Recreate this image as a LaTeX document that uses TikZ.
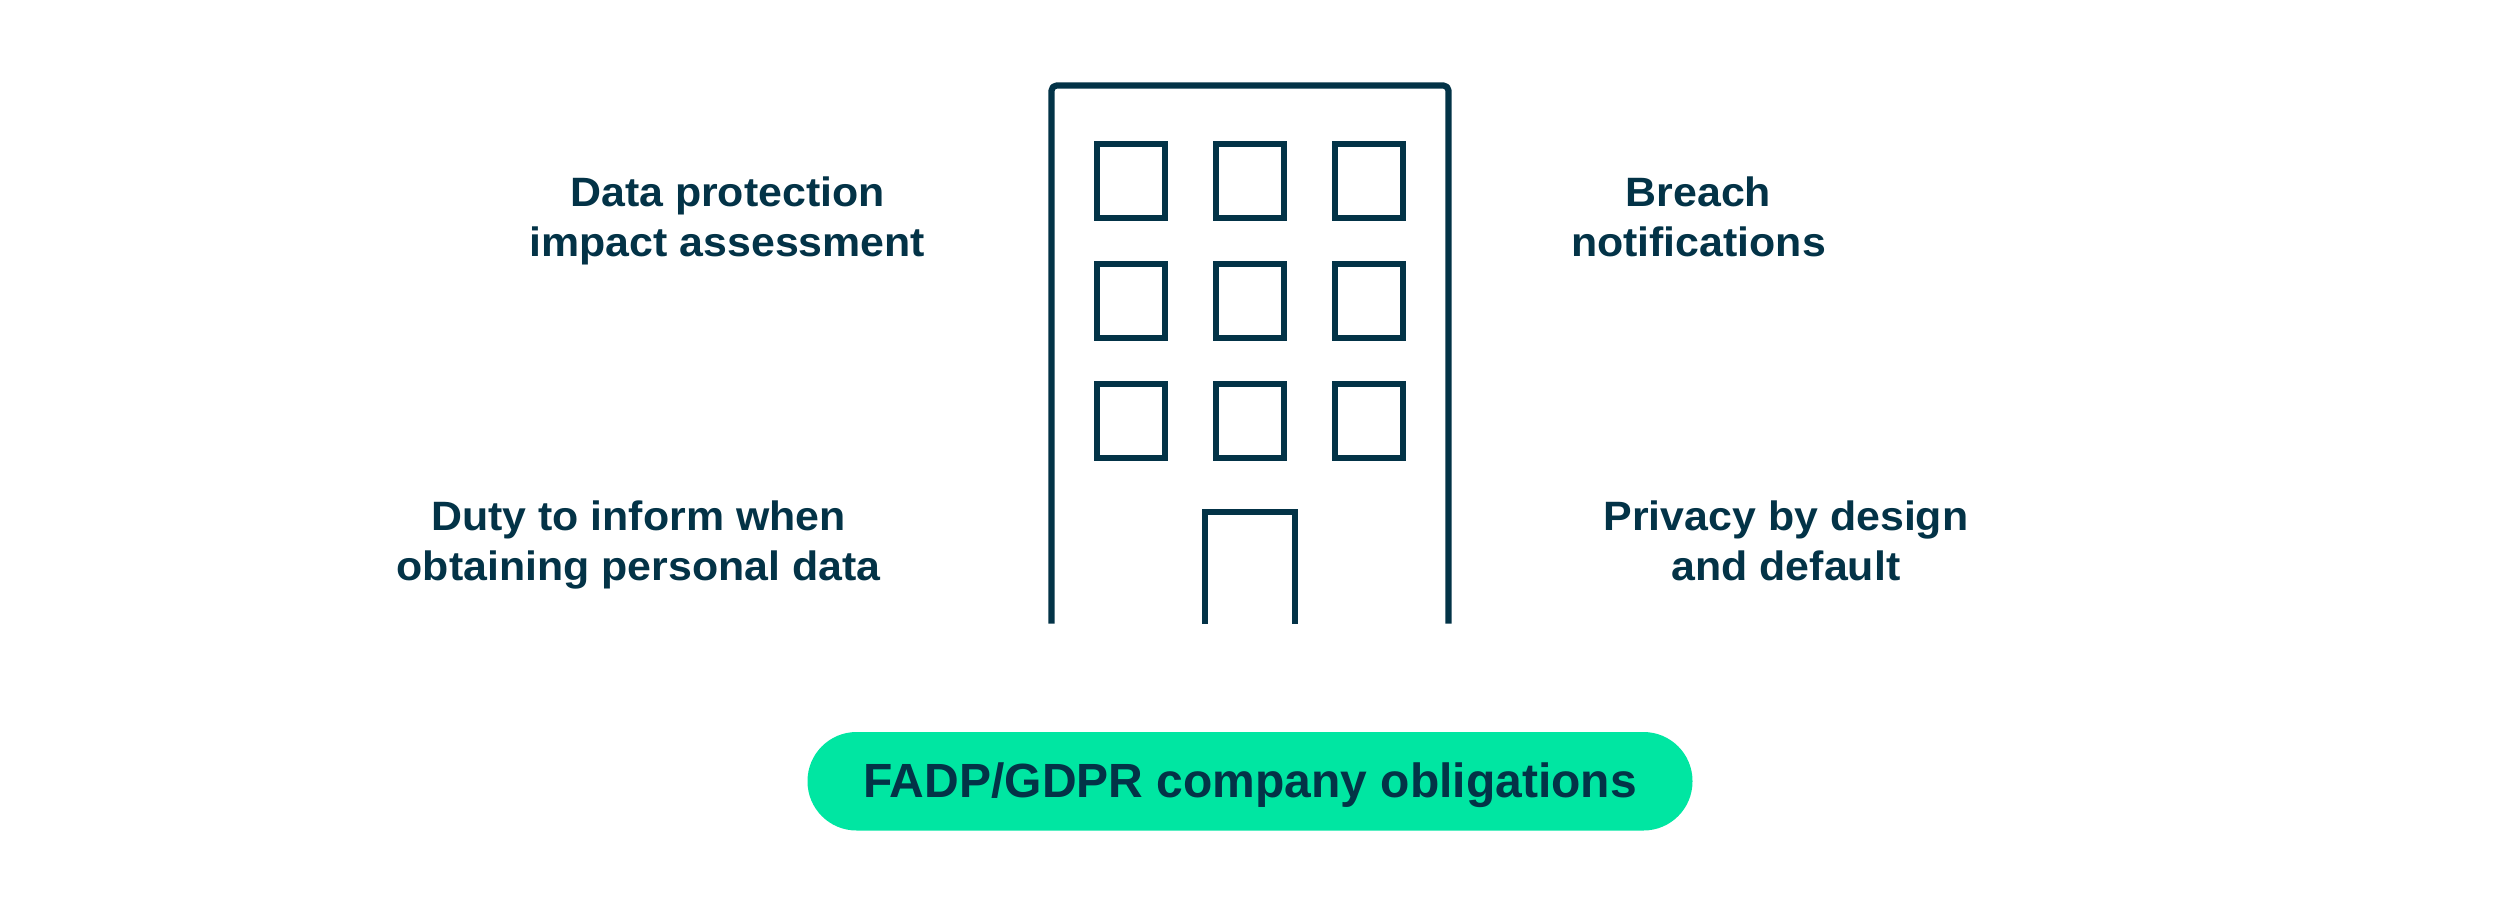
\documentclass[tikz,border=0pt]{standalone}
\usepackage{fontspec}
\setmainfont{Liberation Sans}
\newfontfamily\capfont[FakeStretch=1.046]{Liberation Sans}
\definecolor{ink}{HTML}{033347}
\definecolor{mint}{HTML}{00E6A2}
\tikzset{
  x=1pt,y=-1pt,
  outline/.style={draw=ink,line width=6.2pt,line cap=butt,line join=miter},
  pane/.style={outline,fill=none},
  caption/.style={text=ink,font=\capfont\fontsize{41}{49.7}\selectfont\bfseries,align=center,inner sep=0pt,anchor=base},
  pill/.style={fill=mint,rounded corners=49pt},
  pilltext/.style={text=ink,font=\fontsize{48}{56}\selectfont\bfseries,inner sep=0pt,anchor=base}
}
\begin{document}
\begin{tikzpicture}
\useasboundingbox (0,0) rectangle (2500,908);
\draw[outline,line join=round,rounded corners=5pt] (1051.5,623.5) -- (1051.5,85.5) -- (1448.5,85.5) -- (1448.5,623.5);
\foreach \yt/\yb/\r in {144/218/1,264/338/2,384/457.7/3}{
  \foreach \xl/\xr/\c in {1097.3/1165/1,1216/1284/2,1335/1402.7/3}{
    \draw[pane] (\xl,\yt) rectangle (\xr,\yb);
  }
}
\draw[outline] (1205,623.5) -- (1205,512) -- (1295,512) -- (1295,623.5);
\node[caption] (dpia) at (727.5,256.5) {Data protection\\impact assessment};
\node[caption] (breach) at (1698.5,256.5) {Breach\\notifications};
\node[caption] (duty) at (638.5,580.5) {Duty to inform when\\obtaining personal data};
\node[caption] (privacy) at (1786,580.5) {Privacy by design\\and default};
\fill[pill] (807.5,732) rectangle (1692.5,830.5);
\node[pilltext] (oblig) at (1250,797) {FADP/GDPR company obligations};
\end{tikzpicture}
\end{document}
